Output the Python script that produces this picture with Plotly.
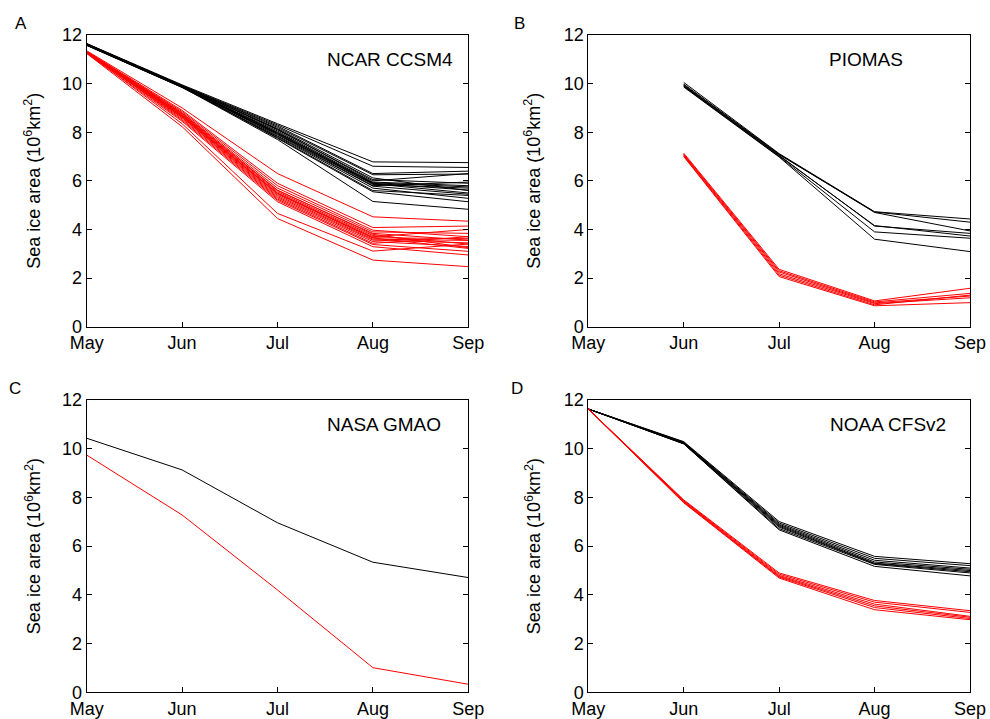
import plotly.graph_objects as go

months = ["May", "Jun", "Jul", "Aug", "Sep"]

# Panel A: NCAR CCSM4
ncar_black = [
    [11.65, 9.95, 8.35, 6.78, 6.75],
    [11.62, 9.92, 8.30, 6.60, 6.55],
    [11.60, 9.90, 8.25, 6.30, 6.40],
    [11.64, 9.93, 8.20, 6.25, 6.28],
    [11.61, 9.88, 8.15, 6.12, 5.60],
    [11.63, 9.90, 8.10, 6.05, 5.90],
    [11.58, 9.86, 8.05, 5.95, 5.80],
    [11.60, 9.89, 8.00, 5.92, 5.75],
    [11.62, 9.87, 7.98, 5.90, 5.62],
    [11.59, 9.85, 7.95, 5.85, 5.70],
    [11.61, 9.88, 7.90, 5.80, 5.95],
    [11.63, 9.91, 7.85, 5.78, 5.45],
    [11.57, 9.84, 7.82, 5.70, 5.28],
    [11.60, 9.86, 7.78, 5.60, 5.40],
    [11.62, 9.88, 7.75, 5.55, 5.14],
    [11.58, 9.85, 7.70, 5.15, 4.83],
    [11.64, 9.92, 8.12, 6.00, 6.30],
    [11.60, 9.87, 7.92, 5.88, 5.50],
]
ncar_red = [
    [11.35, 9.00, 6.30, 4.52, 4.34],
    [11.32, 8.90, 5.90, 4.08, 4.14],
    [11.30, 8.85, 5.80, 3.97, 3.70],
    [11.33, 8.80, 5.70, 3.90, 3.84],
    [11.28, 8.75, 5.60, 3.84, 3.56],
    [11.30, 8.72, 5.55, 3.75, 3.40],
    [11.31, 8.70, 5.50, 3.70, 4.00],
    [11.27, 8.68, 5.45, 3.65, 3.22],
    [11.29, 8.65, 5.40, 3.60, 3.55],
    [11.30, 8.62, 5.35, 3.56, 3.45],
    [11.26, 8.60, 5.30, 3.50, 3.30],
    [11.28, 8.55, 5.25, 3.43, 3.70],
    [11.30, 8.50, 5.20, 3.38, 3.10],
    [11.25, 8.45, 5.14, 3.29, 2.95],
    [11.27, 8.35, 4.66, 3.11, 3.40],
    [11.24, 8.23, 4.45, 2.74, 2.47],
    [11.30, 8.78, 5.62, 3.80, 3.25],
    [11.29, 8.66, 5.48, 3.66, 3.62],
]

# Panel B: PIOMAS (no May value)
piomas_black = [
    [None, 10.05, 7.12, 4.73, 4.43],
    [None, 9.98, 7.10, 4.70, 3.94],
    [None, 9.95, 7.08, 4.72, 4.30],
    [None, 9.92, 7.05, 4.14, 3.84],
    [None, 9.90, 7.02, 4.16, 3.73],
    [None, 9.88, 7.00, 3.90, 3.64],
    [None, 9.86, 6.98, 3.60, 3.09],
]
piomas_red = [
    [None, 7.14, 2.36, 1.06, 1.58],
    [None, 7.10, 2.30, 1.02, 1.37],
    [None, 7.08, 2.25, 0.98, 1.26],
    [None, 7.05, 2.18, 0.95, 1.19],
    [None, 7.02, 2.12, 0.90, 1.30],
    [None, 7.00, 2.06, 0.86, 0.99],
]

# Panel C: NASA GMAO
gmao_black = [[10.43, 9.13, 6.96, 5.34, 4.71]]
gmao_red = [[9.74, 7.28, 4.20, 1.01, 0.33]]

# Panel D: NOAA CFSv2
cfs_black = [
    [11.63, 10.29, 7.01, 5.58, 5.28],
    [11.63, 10.27, 6.95, 5.50, 5.20],
    [11.63, 10.25, 6.90, 5.42, 5.10],
    [11.63, 10.24, 6.86, 5.35, 5.05],
    [11.63, 10.22, 6.82, 5.30, 5.00],
    [11.63, 10.21, 6.78, 5.28, 4.95],
    [11.63, 10.20, 6.72, 5.25, 4.90],
    [11.63, 10.20, 6.67, 5.17, 4.78],
]
cfs_red = [
    [11.63, 7.90, 4.90, 3.77, 3.35],
    [11.63, 7.87, 4.85, 3.70, 3.28],
    [11.63, 7.85, 4.80, 3.62, 3.12],
    [11.63, 7.82, 4.76, 3.55, 3.08],
    [11.63, 7.80, 4.73, 3.48, 3.03],
    [11.63, 7.78, 4.69, 3.39, 2.98],
]

panel_letters = ["A", "B", "C", "D"]
model_names = ["NCAR CCSM4", "PIOMAS", "NASA GMAO", "NOAA CFSv2"]
y_ticks = [0, 2, 4, 6, 8, 10, 12]
y_title = "Sea ice area (10<sup>6</sup>km<sup>2</sup>)"

W, H = 990, 719
FONT = "Liberation Sans, Arial, Helvetica, sans-serif"

panels = [
    (ncar_black, ncar_red),
    (piomas_black, piomas_red),
    (gmao_black, gmao_red),
    (cfs_black, cfs_red),
]

# pixel geometry of plot areas: (left, right, top, bottom)
boxes = [
    (86.7, 468.3, 35.0, 326.7),
    (588.3, 970.0, 35.0, 326.7),
    (86.7, 468.3, 400.0, 692.3),
    (588.3, 970.0, 400.0, 692.3),
]

fig = go.Figure()
layout = dict()
for i, (blk, red) in enumerate(panels):
    n = "" if i == 0 else str(i + 1)
    for series, col in ((blk, "black"), (red, "#ff0000")):
        for s in series:
            fig.add_trace(go.Scatter(
                x=months, y=s, mode="lines",
                line=dict(color=col, width=1),
                xaxis="x" + n, yaxis="y" + n,
                showlegend=False, hoverinfo="skip",
            ))
    l, r, t, b = boxes[i]
    layout["xaxis" + n] = dict(
        domain=[l / W, r / W], anchor="y" + n, automargin=False,
        type="category", categoryorder="array", categoryarray=months,
        range=[0, 4], showgrid=False, zeroline=False,
        ticks="inside", ticklen=5, tickcolor="black",
        showline=True, linecolor="black", linewidth=1, mirror=True,
        tickfont=dict(family=FONT, size=18, color="black"),
    )
    layout["yaxis" + n] = dict(
        domain=[1 - b / H, 1 - t / H], anchor="x" + n, automargin=False,
        range=[0, 12], tickvals=y_ticks, showgrid=False, zeroline=False,
        ticks="inside", ticklen=5, tickcolor="black",
        showline=True, linecolor="black", linewidth=1, mirror="ticks",
        tickfont=dict(family=FONT, size=18, color="black"),
    )

annotations = []
letter_pos = [(21, 23), (519, 23), (15, 389), (517, 389)]
name_pos = [(390, 59), (866, 59), (384, 424), (888, 424)]
title_x = [33, 533, 33, 533]
for i in range(4):
    lx, ly = letter_pos[i]
    annotations.append(dict(text=panel_letters[i], x=lx / W, y=1 - ly / H,
                            xref="paper", yref="paper", showarrow=False,
                            xanchor="center", yanchor="middle",
                            font=dict(family=FONT, size=17, color="black")))
    nx, ny = name_pos[i]
    annotations.append(dict(text=model_names[i], x=nx / W, y=1 - ny / H,
                            xref="paper", yref="paper", showarrow=False,
                            xanchor="center", yanchor="middle",
                            font=dict(family=FONT, size=19, color="black")))
    l, r, t, b = boxes[i]
    annotations.append(dict(text=y_title, x=title_x[i] / W, y=1 - ((t + b) / 2) / H,
                            xref="paper", yref="paper", showarrow=False,
                            textangle=-90, xanchor="center", yanchor="middle",
                            font=dict(family=FONT, size=18, color="black")))

fig.update_layout(
    width=W, height=H,
    margin=dict(l=0, r=0, t=0, b=0, autoexpand=False),
    paper_bgcolor="white", plot_bgcolor="white",
    hovermode=False, showlegend=False,
    annotations=annotations,
    **layout,
)

fig.write_html(
    "out.html",
    config={"displayModeBar": False},
    post_script="document.body.style.margin='0';document.body.style.overflow='hidden';",
)
